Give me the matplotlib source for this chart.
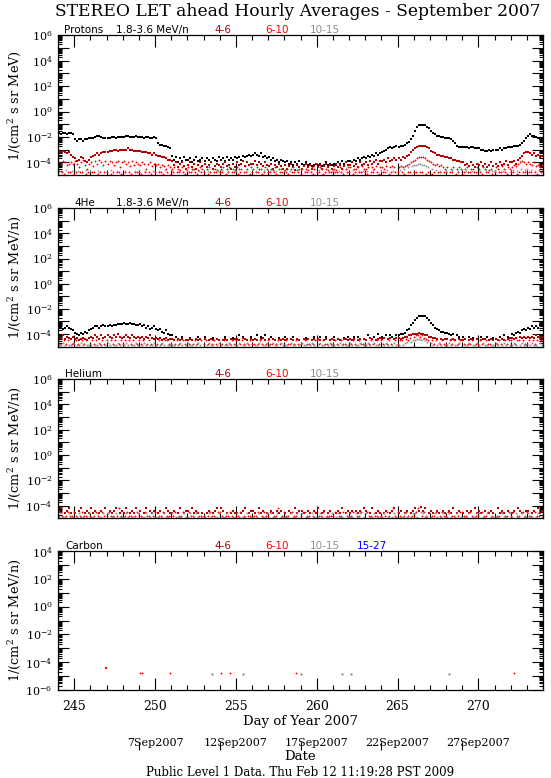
import numpy as np
import matplotlib
matplotlib.use("Agg")
import matplotlib.pyplot as plt
from matplotlib.ticker import FixedLocator, FuncFormatter, LogLocator, NullFormatter, MultipleLocator

plt.rcParams['font.family'] = ['DejaVu Serif']
plt.rcParams['mathtext.fontset'] = 'dejavuserif'

_ = None

# ---------------- data (log10 * 10 of intensity, 3-hour bins, day 244..274) ----------------
DAY_START = 244
BINS_PER_DAY = 8

P1_BLACK = [
 -17,-18,-17,-17,-18,-17,-17,-18, -22,-23,-22,-22,-23,-22,-22,-21,
 -21,-21,-20,-19,-19,-20,-21,-21, -21,-21,-20,-20,-21,-20,-20,-20,
 -20,-19,-19,-20,-20,-20,-19,-20, -20,-20,-21,-20,-20,-21,-21,-20,
 -21,-25,-26,-26,-27,-27,-28,-29, -35,-38,-36,-40,-37,-39,-36,-38,
 -38,-37,-40,-38,-36,-39,-38,-37, -39,-37,-38,-40,-37,-38,-39,-36,
 -38,-37,-39,-36,-38,-37,-38,-36, -37,-36,-38,-35,-36,-35,-34,-35,
 -34,-33,-34,-35,-33,-36,-35,-37, -36,-38,-37,-39,-38,-40,-38,-39,
 -40,-39,-41,-40,-42,-40,-41,-39, -41,-42,-40,-42,-41,-43,-42,-41,
 -42,-41,-43,-42,-40,-42,-41,-42, -41,-42,-40,-41,-39,-41,-40,-39,
 -39,-40,-38,-39,-37,-38,-37,-36, -37,-35,-36,-34,-35,-33,-34,-33,
 -32,-31,-30,-29,-28,-29,-28,-27, -28,-27,-27,-26,-25,-24,-22,-19,
 -15,-12,-11,-11,-11,-11,-12,-13, -15,-17,-18,-19,-19,-20,-20,-21,
 -21,-21,-22,-23,-25,-27,-28,-28, -28,-28,-28,-29,-28,-28,-29,-29,
 -29,-30,-30,-31,-31,-30,-31,-30, -30,-30,-29,-30,-29,-29,-28,-28,
 -28,-27,-27,-27,-26,-25,-23,-21, -19,-18,-19,-19,-20,-21,-22,-23,
]

P1_DRED = [
 -32,-32,-31,-32,-33,-32,-34,-36, -37,-39,-38,-36,-37,-39,-40,-38,
 -36,-35,-34,-33,-34,-33,-32,-32, -32,-31,-31,-30,-30,-31,-30,-30,
 -30,-30,-29,-30,-30,-31,-31,-31, -31,-32,-32,-32,-33,-33,-34,-33,
 -34,-35,-35,-36,-36,-37,-38,-38, -39,-42,-40,-44,-41,-40,-43,-45,
 -42,-40,-44,-41,-45,-42,-40,-43, -41,-44,-42,-40,-45,-43,-41,-42,
 -44,-41,-40,-43,-42,-45,-41,-44, -40,-42,-41,-39,-43,-40,-42,-41,
 -41,-39,-42,-40,-41,-43,-40,-42, -43,-41,-45,-42,-44,-41,-43,-45,
 -42,-45,-43,-41,-44,-46,-42,-44, -45,-43,-41,-44,-42,-45,-43,-41,
 -44,-42,-45,-43,-41,-44,-42,-45, -43,-41,-44,-42,-45,-43,-40,-42,
 -42,-40,-43,-41,-44,-40,-42,-41, -40,-42,-39,-41,-40,-38,-41,-39,
 -39,-38,-40,-37,-39,-38,-37,-38, -37,-38,-36,-37,-35,-34,-32,-30,
 -29,-28,-27,-27,-27,-27,-28,-29, -31,-32,-33,-34,-34,-35,-35,-36,
 -36,-37,-37,-38,-38,-39,-39,-40, -40,-42,-41,-43,-40,-42,-44,-41,
 -42,-40,-43,-41,-44,-42,-40,-43, -41,-43,-40,-42,-41,-39,-42,-40,
 -40,-39,-41,-38,-37,-35,-33,-32, -32,-33,-34,-33,-35,-34,-36,-35,
]

P1_RED = [
 -40,-41,-39,-40,-42,-41,-40,-41, -39,-41,-44,-40,-38,-42,-45,-41,
 -40,-43,-39,-41,-38,-40,-42,-39, -41,-39,-40,-42,-40,-39,-44,-40,
 -39,-41,-40,-43,-39,-42,-40,-41, -42,-40,-41,-45,-41,-40,-43,-41,
 -42,-41,-44,-42,-43,-45,-42,-44, -45,-44,_,-45,-46,-44,_,-45,
 -44,_,-45,-45,_,-46,-44,-45, _,-45,-44,_,-45,-45,-46,_,
 -45,-44,_,-45,-44,_,-45,-46, -44,-45,-45,_,-43,-45,_,-44,
 -45,_,-44,-45,-45,_,-44,-45, _,-45,-46,-44,_,-45,-45,_,
 -46,-45,_,-45,-44,_,-46,-45, -45,_,-45,-46,_,-44,-45,_,
 _,-44,-45,_,-45,-46,_,-45, -45,-46,_,-44,-45,_,-45,-44,
 -44,_,-45,-45,-44,_,-43,-45, -45,-44,_,-44,-45,-43,_,-44,
 -44,-45,-43,_,-44,-43,-44,_, -44,-43,-44,-43,-42,-41,-40,-39,
 -38,-37,-36,-36,-36,-37,-38,-39, -40,-41,-42,-41,-43,-42,-44,-45,
 -44,_,-45,-44,_,-45,-44,-45, _,-45,-44,_,-45,-45,_,-44,
 -45,_,-44,-45,_,-46,-45,_, -44,-45,_,-43,-45,_,-44,-45,
 -44,-42,-43,-41,-40,-39,-40,-41, -40,-41,-42,-40,-43,-42,-44,-42,
]

# 6-10 MeV/n one-count readings (between the bins above)
P1_RED_LOW = [
 -48,_,-48,-49,_,-48,-48,_, -49,-48,_,-48,-48,_,-49,-48,
 _,-48,-48,_,-49,-48,_,-48, -48,_,-49,-48,_,-48,-48,-49,
 _,-48,_,-48,-49,_,-48,-48, -48,-49,_,-48,_,-48,-49,_,
 -48,_,-48,-48,-49,_,-48,_, -49,-48,_,-48,-48,_,-48,-49,
 _,-48,-48,_,-48,-49,_,-48, -48,_,-49,-48,_,-48,-48,_,
 -48,-48,_,-49,-48,_,-48,-48, _,-49,-48,_,-48,-48,_,-49,
 -48,_,-48,-48,_,-49,-48,_, -48,-48,_,-48,-49,_,-48,-48,
 _,-48,-49,_,-48,-48,_,-48, -49,_,-48,-48,_,-48,-49,_,
 -48,-48,_,-49,-48,_,-48,-48, _,-48,-48,_,-48,-49,_,-48,
 -48,_,-49,-48,_,-48,-48,_, -48,-49,_,-48,-48,_,-48,-49,
 _,-48,-48,_,-49,-48,_,-48, -48,_,-48,-49,_,-48,-48,_,
 -48,-48,_,-48,-48,_,-49,-48, _,-49,-48,_,-48,-48,_,-48,
 -48,_,-48,-48,_,-49,-48,_, -49,-48,_,-48,-48,_,-48,-48,
 _,-48,-49,_,-48,-48,_,-49, -48,_,-48,-48,_,-48,-49,_,
 -48,-48,_,-49,-48,_,-48,-48, _,-48,-48,_,-48,-49,_,-48,
]

P1_GRAY = [
 _,-47,_,_,-46,_,_,-47, _,_,-47,_,_,_,-46,_,
 -47,_,_,_,-47,_,_,_, _,_,-46,_,_,-47,_,_,
 _,-47,_,_,_,_,-47,_, -46,_,_,-47,_,_,_,-47,
 _,_,-47,_,_,-46,_,_, _,-47,_,_,-47,_,_,_,
 -47,_,_,-46,_,_,-47,_, _,_,-47,_,_,_,_,-47,
 _,-46,_,_,-47,_,_,_, -47,_,_,_,_,-47,_,_,
 _,_,-47,_,_,_,-46,_, _,-47,_,_,-47,_,_,_,
 -47,_,_,-47,_,_,_,-46, _,_,-47,_,_,-47,_,_,
 _,-46,_,_,_,_,-47,_, -47,_,_,-47,_,_,_,_,
 _,_,-46,_,_,-47,_,-47, _,-47,_,_,-46,_,_,_,
 -47,_,_,-46,_,_,-47,_, _,-46,_,-45,_,-44,_,-43,
 -42,-42,-41,-41,-42,-42,-43,-44, _,-45,_,-46,_,-47,_,_,
 -47,_,_,-46,_,_,-47,_, _,_,-47,_,_,-47,_,_,
 _,-47,_,_,-46,_,_,-47, -47,_,_,_,-47,_,_,_,
 _,-46,_,-47,_,-45,_,-46, -45,_,-46,_,-47,_,-46,_,
]

P2_BLACK = [
 -35,-35,-36,-35,-34,-35,-36,-37, -39,-40,-41,-39,-40,-38,-39,-37,
 -36,-35,-34,-34,-35,-34,-33,-34, -34,-33,-34,-33,-33,-32,-32,-32,
 -31,-32,-32,-31,-32,-32,-33,-33, -32,-34,-33,-35,-34,-36,-35,-34,
 -36,-37,-36,-38,-39,-37,-40,-41, -41,_,-42,_,_,-42,_,_,
 _,-43,_,_,_,-42,_,_, -42,_,_,_,-43,_,_,_,
 _,_,-42,_,_,_,-43,_, _,-41,_,-42,_,_,_,-42,
 _,_,-41,_,-42,_,-41,_, _,-42,_,_,_,-43,_,_,
 -42,_,_,_,-42,_,_,_, _,_,-43,_,_,_,-42,_,
 _,-42,_,_,-42,_,_,_, -42,_,_,_,_,-43,_,-42,
 _,_,-42,_,-42,_,_,_, _,-41,_,_,-42,_,-40,_,
 -42,_,-41,_,-41,-42,_,-41, -41,-40,-40,-39,-37,-36,-33,-31,
 -29,-27,-26,-26,-26,-26,-27,-29, -31,-33,-35,-36,-37,-38,-38,-39,
 -39,-40,-41,-40,_,-41,-42,_, -42,_,_,-42,_,-43,_,_,
 _,-42,_,_,-42,_,_,-43, _,_,-42,_,-41,_,-42,_,
 -40,-41,-39,-38,-39,-37,-36,-37, -35,-36,-34,-35,-34,-35,-33,-34,
]

P2_DRED = [
 -42,-43,-41,-44,-42,-43,-44,-42, -44,-43,-45,-44,-43,-44,-45,-43,
 -42,-43,-41,-42,-44,-41,-43,-42, -41,-42,-43,-41,-42,-40,-42,-43,
 -42,-41,-42,-43,-41,-42,-43,-42, -43,-42,-44,-42,-43,-41,-43,-44,
 -43,-44,-43,-45,-44,-43,-45,-44, -44,-45,_,-44,-45,-44,_,-45,
 -45,-44,-45,_,-44,-45,-44,_, -44,_,-45,-44,-45,_,-44,-45,
 _,-45,-44,-45,_,-44,-45,-44, -44,-45,_,-43,-44,-45,_,-44,
 -45,-44,-45,_,-44,-43,-45,_, -44,_,-44,-45,_,-44,-45,-44,
 -45,-44,_,-44,-45,_,-44,-45, _,-44,-45,-44,_,-45,-44,_,
 -44,-45,_,-45,-44,_,-45,-44, -45,_,-44,-45,_,-44,-44,-45,
 -44,-45,-44,_,-45,-44,_,-44, -45,_,-43,-44,_,-45,-44,-43,
 -44,-43,_,-44,-43,_,-44,-43, -43,-44,-43,-42,-42,-41,-41,-40,
 -40,-40,-39,-40,-40,-41,-41,-42, -42,-43,-43,-44,_,-44,-45,-44,
 -44,_,-45,-44,-45,_,-44,-45, -45,-44,_,-45,-44,-45,_,-44,
 _,-45,-44,-44,_,-45,-44,-45, -44,-45,_,-44,-45,_,-44,-43,
 -43,-44,-43,_,-42,-43,-42,-43, -42,-43,-42,-43,-41,-42,-43,-42,
]

P2_RED = [
 -45,-48,_,-45,-48,-45,_,-48, -48,-45,-48,_,-45,-48,-45,_,
 _,-45,-48,-45,_,-48,-45,-48, -45,_,-45,-48,-45,_,-48,-45,
 -48,-45,_,-45,-48,-45,_,-48, -45,-48,-45,_,-48,-45,-48,_,
 _,-48,-45,-48,_,-45,-45,-48, -48,_,-48,-45,-48,_,-45,-48,
 -45,-48,_,-48,-45,-48,_,-45, -48,-45,-48,_,-48,-45,-48,_,
 _,-48,-45,-48,_,-48,-45,-48, -45,_,-48,-45,-48,_,-48,-45,
 -48,-48,_,-48,-45,-48,_,-48, -45,-48,-48,_,-48,-45,-48,_,
 _,-45,-48,-48,_,-48,-45,-48, -48,_,-45,-48,-48,_,-48,-45,
 -45,-48,_,-45,-48,-48,_,-48, -48,-45,-48,_,-45,-48,-48,_,
 _,-48,-45,-48,_,-45,-48,-48, -48,_,-48,-45,-48,_,-45,-48,
 -45,-48,_,-48,-45,-48,_,-45, -48,-45,-45,_,-44,-45,-43,_,
 -42,-41,-41,-42,-41,-43,-44,-45, _,-45,-48,-45,_,-48,-45,-48,
 -48,_,-45,-48,-45,_,-48,-45, -45,-48,_,-48,-48,-45,_,-48,
 -48,-45,-48,_,-45,-48,-48,_, _,-48,-45,-48,_,-45,-48,-45,
 -45,_,-48,-45,-45,_,-45,-48, -48,-45,_,-45,-48,-45,_,-45,
]

P2_GRAY = [
 -49,-49,-47,-49,_,-49,-49,-47, _,-49,-49,-47,-49,_,-49,-49,
 -49,_,-49,-49,-47,-49,_,-49, -47,-49,_,-49,-49,-47,-49,_,
 -49,-47,-49,_,-49,-49,-47,-49, _,-49,-47,-49,_,-49,-49,-47,
 -49,_,-49,-47,-49,_,-49,-49, -49,-49,_,-49,-47,-49,_,-49,
 -47,-49,-49,_,-49,-47,-49,_, _,-49,-47,-49,-49,_,-49,-47,
 -49,_,-49,-49,-47,-49,_,-49, -49,-47,_,-49,-49,-47,-49,_,
 _,-49,-49,-47,_,-49,-49,-47, -49,_,-47,-49,-49,_,-47,-49,
 -49,-49,_,-47,-49,-49,_,-49, -47,-49,-49,_,-49,-47,-49,_,
 _,-47,-49,-49,_,-49,-47,-49, -49,_,-49,-47,-49,_,-49,-49,
 -47,-49,_,-49,-49,-47,_,-49, -49,-47,-49,_,-47,-49,-49,_,
 _,-49,-47,-49,_,-49,-47,-49, -49,_,-49,-47,-46,_,-46,-45,
 -45,-44,-44,-45,-44,-45,-46,_, -47,-49,_,-49,-47,-49,_,-49,
 -49,-47,-49,_,-49,-49,-47,_, _,-49,-49,-47,_,-49,-49,-47,
 -49,_,-47,-49,-49,_,-49,-49, -47,-49,_,-49,-47,-49,_,-49,
 -49,-47,-49,_,-49,-47,-49,-49, _,-49,-47,-49,-49,_,-47,-49,
]

P3_DRED = [
 -44,-42,_,-46,-44,-42,-46,_, -46,_,-44,-42,_,-46,-44,-46,
 -42,-46,-44,_,-46,-44,_,-42, _,-44,-46,-44,-42,_,-46,-44,
 -46,-42,_,-46,-44,-46,-42,_, -44,_,-46,-42,_,-44,-46,-44,
 _,-46,-44,_,-46,-42,-44,-46, -46,-44,_,-46,-42,_,-46,-44,
 -44,_,-42,-46,-44,-46,_,-46, _,-46,-44,_,-46,-44,-42,_,
 -42,-44,_,-46,_,-46,-44,-46, -46,_,-46,-44,-42,_,-46,-44,
 -44,-46,_,-42,-46,-44,_,-46, _,-44,-46,_,-44,-46,-44,_,
 -46,_,-44,-46,_,-42,-46,-44, -44,-46,_,-44,-46,_,-44,-46,
 -42,_,-46,-44,_,-46,-44,_, _,-46,-44,-46,-42,_,-46,-44,
 -46,-44,_,-44,-46,-44,_,-42, -44,_,-46,-42,_,-46,-44,-46,
 _,-46,-44,_,-46,-44,-42,_, -46,-44,_,-46,-44,_,-46,-44,
 -42,_,-44,-41,-44,-42,_,-46, -44,-46,_,-44,-46,_,-44,-46,
 _,-44,-46,-42,_,-46,-44,_, -46,_,-44,-46,-44,_,-42,-46,
 -44,-46,_,-44,_,-46,-44,-46, _,-42,-46,-44,-46,_,-44,_,
 -46,-44,_,-42,-44,-46,_,-44, -44,_,-46,-44,_,-42,-46,-44,
]

P3_RED = [
 -48,-45,-48,_,-48,-45,-48,-48, -45,-48,_,-48,-45,-48,-48,_,
 -48,_,-48,-45,-48,_,-45,-48, -48,-45,-48,-48,_,-48,-42,-48,
 _,-48,-45,-48,-48,_,-48,-45, -48,-48,_,-45,-48,-48,_,-48,
 -45,_,-48,-48,-45,_,-48,-48, -48,-48,-45,_,-48,-48,-45,_,
 _,-45,-48,-48,_,-45,-48,-48, -48,_,-48,-45,-48,-48,_,-45,
 -45,-48,_,-48,-48,-45,-48,_, -48,-48,-45,_,-48,_,-48,-48,
 _,-48,-48,-45,_,-48,-45,-48, -48,-45,_,-48,-48,-42,_,-48,
 -45,-48,-48,_,-45,-48,-48,_, -48,_,-45,-48,-48,_,-48,-45,
 _,-48,-48,-45,_,-48,-48,-48, -48,-45,_,-48,-48,-45,_,-48,
 -48,-48,-45,_,-48,-48,-45,_, _,-45,-48,-48,_,-48,-48,-45,
 -48,_,-48,-45,-48,_,-42,-48, -45,-48,_,-48,-45,-48,_,-48,
 -48,-45,-42,_,-48,-45,-48,_, _,-48,-48,-45,_,-48,-45,-48,
 -48,-45,_,-48,-48,_,-48,-45, -45,-48,-48,_,-45,-48,_,-48,
 -48,_,-45,-48,-48,-45,_,-48, _,-48,-48,-45,_,-48,-48,-45,
 -48,-45,_,-48,-48,_,-45,-48, -45,-48,-48,_,-45,-48,-48,_,
]

P3_GRAY = [
 -49,-46,-49,-49,_,-46,-49,-49, _,-49,-46,-49,-49,_,-49,-46,
 -49,-49,_,-46,-49,-49,-46,_, -46,_,-49,-49,-46,_,-49,-49,
 -49,-46,-49,_,-49,-49,_,-46, _,-49,-49,-46,_,-49,-46,-49,
 -49,-49,_,-49,-46,-49,-49,_, -46,_,-49,-49,-49,_,-46,-49,
 -49,-46,_,-49,-46,-49,_,-49, -49,_,-46,-49,_,-49,-49,-46,
 _,-49,-49,-46,-49,_,-49,-49, -46,-49,_,-49,-49,-46,_,-49,
 -49,_,-49,-46,_,-49,-49,-46, _,-46,-49,-49,-46,_,-49,-49,
 -49,-49,_,-46,-49,-49,-46,_, -46,_,-49,-49,_,-46,-49,-49,
 -49,-46,-49,_,-49,-49,_,-46, _,-49,-46,-49,-49,_,-46,-49,
 -49,-49,_,-46,-49,-46,_,-49, -46,_,-49,-49,-46,_,-49,-49,
 -49,-46,_,-49,_,-49,-46,-49, _,-49,-49,-46,-49,_,-49,-46,
 -46,-49,_,-45,-46,-49,-49,_, -49,_,-46,-49,_,-49,-46,-49,
 -49,-46,-49,_,-49,-46,_,-49, _,-49,-49,-46,_,-49,-49,-46,
 -46,_,-49,-49,-46,_,-49,-49, -49,-49,_,-46,-49,-49,_,-46,
 -49,_,-46,-49,_,-46,-49,-49, -46,-49,-49,_,-49,-46,_,-49,
]

# Carbon: isolated points (day of year, log10 intensity)
C46_DAY = [244.06, 246.94]
C46_LOG = [-4.45, -4.45]
C610_DAY = [249.07, 249.2, 250.93, 254.08, 254.63, 258.73, 272.23]
C610_LOG = [-4.77, -4.77, -4.77, -4.77, -4.77, -4.77, -4.77]
C1015_DAY = [253.5, 255.46, 259.03, 261.56, 262.1, 268.2]
C1015_LOG = [-4.83, -4.83, -4.83, -4.83, -4.83, -4.83]

X_MAJOR = [245, 250, 255, 260, 265, 270]
DATE_LABELS = ['7Sep2007', '12Sep2007', '17Sep2007', '22Sep2007', '27Sep2007']
DATE_LABEL_DAYS = [250, 255, 260, 265, 270]
DATE_TICK_DAYS = [249, 254, 259, 264, 269]

TITLE = 'STEREO LET ahead Hourly Averages - September 2007'
FOOTER = 'Public Level 1 Data. Thu Feb 12 11:19:28 PST 2009'

C_DRED = '#b40000'
C_RED = '#ff0000'
C_GRAY = '#909090'
C_BLUE = '#0000ff'

# ---------------- helpers ----------------
W, H = 551, 778
T = DAY_START + (np.arange(240) + 0.5) / BINS_PER_DAY
T_LOW = DAY_START + np.arange(240) / BINS_PER_DAY


def vals(lst):
    a = np.array([np.nan if v is None else v for v in lst], dtype=float)
    return 10.0 ** (a / 10.0)


def rect(top, bottom, left=58, right=543):
    return [left / W, 1 - bottom / H, (right - left) / W, (bottom - top) / H]


def dots(ax, x, y, color, marker='s', ms=1.4, mew=0.0):
    ax.plot(x, y, ls='none', marker=marker, ms=ms, mew=mew, color=color,
            mec=color, clip_on=True)


def style_axes(ax, ylo, yhi, show_x=False):
    ax.set_yscale('log')
    ax.set_xlim(244, 274)
    ax.set_ylim(10.0 ** ylo, 10.0 ** yhi)
    ax.yaxis.set_major_locator(FixedLocator([10.0 ** k for k in range(ylo, yhi + 1)]))
    ax.yaxis.set_minor_locator(LogLocator(base=10, subs=np.arange(2, 10), numticks=100))
    ax.yaxis.set_minor_formatter(NullFormatter())
    ax.yaxis.set_major_formatter(FuncFormatter(
        lambda v, p: ('$10^{%d}$' % round(np.log10(v))) if round(np.log10(v)) % 2 == 0 else ''))
    ax.xaxis.set_major_locator(FixedLocator(X_MAJOR))
    ax.xaxis.set_minor_locator(MultipleLocator(1))
    ax.tick_params(axis='both', which='both', direction='in', top=True, right=True,
                   width=0.8, colors='black')
    ax.tick_params(axis='y', which='major', length=8, labelsize=8, pad=4)
    ax.tick_params(axis='y', which='minor', length=3.2)
    ax.tick_params(axis='x', which='major', length=8.5, labelsize=9, pad=7)
    ax.tick_params(axis='x', which='minor', length=3.8)
    if not show_x:
        ax.tick_params(axis='x', labelbottom=False)
    for s in ax.spines.values():
        s.set_linewidth(0.9)


def header(ax, first, second, extra_blue=False, x_first=64, ax_h=139.5):
    yy = 1 + 5.2 / ax_h
    kw = dict(transform=ax.transAxes, va='center', fontsize=7.5, family='DejaVu Sans')
    ax.text((x_first - 58) / 485, yy, first, ha='left', color='black', **kw)
    if second:
        ax.text((116 - 58) / 485, yy, second, ha='left', color='black', **kw)
    ax.text((222.5 - 58) / 485, yy, '4-6', ha='center', color=C_DRED, **kw)
    ax.text((277 - 58) / 485, yy, '6-10', ha='center', color=C_RED, **kw)
    ax.text((325 - 58) / 485, yy, '10-15', ha='center', color=C_GRAY, **kw)
    if extra_blue:
        ax.text((372 - 58) / 485, yy, '15-27', ha='center', color=C_BLUE, **kw)


fig = plt.figure(figsize=(W / 100, H / 100), dpi=100)
fig.patch.set_facecolor('white')

ax1 = fig.add_axes(rect(35.3, 175.0))
ax2 = fig.add_axes(rect(208.3, 346.6))
ax3 = fig.add_axes(rect(378.9, 518.4))
ax4 = fig.add_axes(rect(551.0, 690.0))

PLUS = dict(marker='+', ms=2.1, mew=0.6)

# Panel 1: protons
dots(ax1, T, vals(P1_BLACK), 'black', ms=1.8)
dots(ax1, T, vals(P1_DRED), C_DRED, ms=1.6)
dots(ax1, T, vals(P1_RED), C_RED, **PLUS)
dots(ax1, T_LOW, vals(P1_RED_LOW), C_RED, **PLUS)
dots(ax1, T_LOW, vals(P1_GRAY), C_GRAY, ms=1.2)
style_axes(ax1, -5, 6)
header(ax1, 'Protons', '1.8-3.6 MeV/n', x_first=64)

# Panel 2: 4He
dots(ax2, T, vals(P2_BLACK), 'black', ms=1.8)
dots(ax2, T, vals(P2_DRED), C_DRED, ms=1.6)
dots(ax2, T_LOW, vals(P2_RED), C_RED, **PLUS)
dots(ax2, T, vals(P2_GRAY), C_GRAY, ms=1.3)
style_axes(ax2, -5, 6)
header(ax2, '4He', '1.8-3.6 MeV/n', x_first=74)

# Panel 3: Helium
dots(ax3, T, vals(P3_DRED), C_DRED, ms=1.6)
dots(ax3, T_LOW, vals(P3_RED), C_RED, **PLUS)
dots(ax3, T, vals(P3_GRAY), C_GRAY, ms=1.3)
style_axes(ax3, -5, 6)
header(ax3, 'Helium', None, x_first=65)

# Panel 4: Carbon
dots(ax4, C46_DAY, 10.0 ** np.array(C46_LOG), C_RED, ms=1.9)
dots(ax4, C610_DAY, 10.0 ** np.array(C610_LOG), C_RED, **PLUS)
dots(ax4, C1015_DAY, 10.0 ** np.array(C1015_LOG), '#707070', ms=1.3)
style_axes(ax4, -6, 4, show_x=True)
header(ax4, 'Carbon', None, extra_blue=True, x_first=65)
ax4.set_xlabel('Day of Year 2007', fontsize=9.5, labelpad=2)

# secondary date axis
sec = ax4.secondary_xaxis(-59.5 / 139.0)
sec.spines['bottom'].set_visible(False)
sec.xaxis.set_major_locator(FixedLocator(DATE_TICK_DAYS))
sec.xaxis.set_major_formatter(NullFormatter())
sec.xaxis.set_minor_locator(FixedLocator(DATE_LABEL_DAYS))
sec.xaxis.set_minor_formatter(FuncFormatter(lambda v, p: DATE_LABELS[DATE_LABEL_DAYS.index(int(round(v)))]))
sec.tick_params(axis='x', which='major', direction='in', length=5.8, width=0.8)
sec.tick_params(axis='x', which='minor', direction='in', length=0, labelsize=8, pad=-8)

# y labels
YL_X = 14.5 / W
fig.text(YL_X, 1 - 105 / H, '1/(cm$^2$ s sr MeV)', rotation=90, ha='center', va='center', fontsize=9.3)
for top, bot in [(208.3, 346.6), (378.9, 518.4), (551.0, 690.0)]:
    fig.text(YL_X, 1 - (top + bot) / 2 / H, '1/(cm$^2$ s sr MeV/n)', rotation=90,
             ha='center', va='center', fontsize=9.3)

fig.text(298 / W, 1 - 12 / H, TITLE, ha='center', va='center', fontsize=12.3)
fig.text(300 / W, 1 - 756.7 / H, 'Date', ha='center', va='center', fontsize=9.5)
fig.text(300 / W, 1 - 772.7 / H, FOOTER, ha='center', va='center', fontsize=8.5)

fig.savefig('out.png', dpi=100, facecolor='white')
